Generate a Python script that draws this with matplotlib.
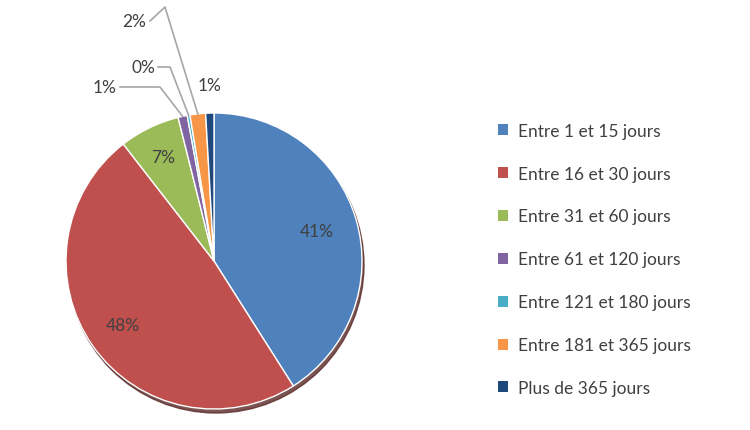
import matplotlib.pyplot as plt
import numpy as np

plt.rcParams['font.family'] = ['Lato', 'DejaVu Sans']

categories = ["Entre 1 et 15 jours", "Entre 16 et 30 jours", "Entre 31 et 60 jours",
              "Entre 61 et 120 jours", "Entre 121 et 180 jours", "Entre 181 et 365 jours",
              "Plus de 365 jours"]
values = [41.0, 48.5, 6.6, 1.0, 0.3, 1.7, 0.9]
labels = ["41%", "48%", "7%", "1%", "0%", "2%", "1%"]
colors = ["#4F81BD", "#C0504D", "#9BBB59", "#8064A2", "#4BACC6", "#F79646", "#1F497D"]

W, H = 750, 431
fig = plt.figure(figsize=(7.5, 4.31), dpi=100)
ax = fig.add_axes([0, 0, 1, 1])

cx, cy, r = 214, H - 262, 148
# soft shadow
shadow = plt.Circle((cx + 2, cy - 4), r, color='#5a2a28', alpha=0.8, zorder=0)
ax.add_patch(shadow)
wedges, _ = ax.pie(values, colors=colors, startangle=90, counterclock=False,
                   center=(cx, cy), radius=r, frame=True,
                   wedgeprops=dict(edgecolor='white', linewidth=1))
ax.set_xlim(0, W)
ax.set_ylim(0, H)
ax.set_aspect('equal')
ax.axis('off')

txt = dict(fontsize=12.5, color='#404040', ha='center', va='center')
# inner labels for larger slices
for i, frac in [(0, 0.72), (1, 0.75), (2, 0.78)]:
    w = wedges[i]
    ang = np.deg2rad((w.theta1 + w.theta2) / 2)
    ax.text(cx + frac * r * np.cos(ang), cy + frac * r * np.sin(ang), labels[i], **txt)

# outer labels with leader lines
outer = [(3, (105, 88), [(120, 88), (160, 88)]),
         (4, (143, 68), [(158, 68), (170, 68)]),
         (5, (134, 22), [(150, 22), (165, 8)]),
         (6, (210, 86), [])]
for i, (lx, ly), pts in outer:
    w = wedges[i]
    ang = np.deg2rad((w.theta1 + w.theta2) / 2)
    ex, ey = cx + r * np.cos(ang), cy + r * np.sin(ang)
    ax.text(lx, H - ly, labels[i], **txt)
    if pts:
        xs = [p[0] for p in pts] + [ex]
        ys = [H - p[1] for p in pts] + [ey]
        ax.plot(xs, ys, color='#A6A6A6', lw=1.2)

leg = fig.legend(wedges, categories, loc='upper left', bbox_to_anchor=(482 / W, 1 - 108 / H),
                 frameon=False, fontsize=12.5, labelspacing=1.55, handlelength=0.6,
                 handleheight=0.6, handletextpad=0.6, labelcolor='#404040')
for h in leg.legend_handles:
    h.set_edgecolor('none')

fig.savefig("out.png", dpi=100)
